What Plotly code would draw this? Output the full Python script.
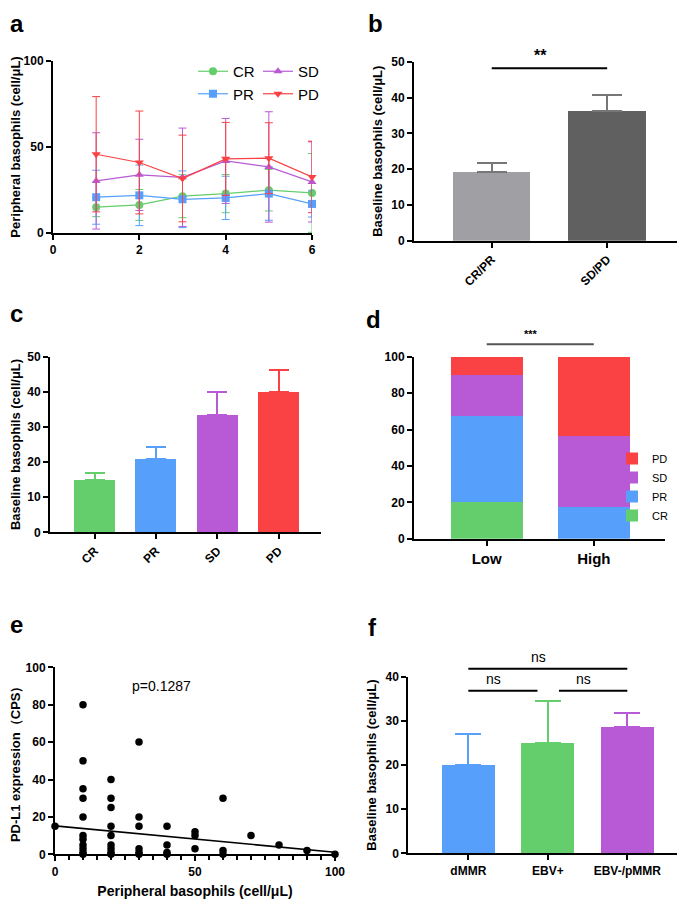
import plotly.graph_objects as go

# ---- data ----
groups = ['CR', 'PR', 'SD', 'PD']
colors = {'CR': '#63CE6B', 'PR': '#56A0FB', 'SD': '#B85AD6', 'PD': '#FA4144'}

# a: peripheral basophils over time (mean +/- SD)
time_pts = [1, 2, 3, 4, 5, 6]
a_mean = {
    'CR': [15.0, 16.3, 21.4, 22.9, 24.9, 23.3],
    'PR': [20.8, 21.9, 19.6, 20.4, 22.9, 16.9],
    'SD': [30.3, 33.8, 32.4, 41.9, 38.4, 29.7],
    'PD': [45.8, 41.0, 31.7, 43.1, 43.5, 32.6],
}
a_sd = {
    'CR': [5.5, 9.0, 12.5, 11.1, 12.1, 22.9],
    'PR': [15.7, 17.6, 16.5, 12.6, 15.5, 7.6],
    'SD': [28.0, 20.7, 28.6, 24.7, 32.1, 23.3],
    'PD': [33.5, 29.9, 25.2, 21.2, 20.6, 20.8],
}

# b: baseline basophils CR/PR vs SD/PD
b_groups = ['CR/PR', 'SD/PD']
b_mean = [19.3, 36.3]
b_err = [2.5, 4.5]
b_colors = ['#A0A0A4', '#606060']

# c: baseline basophils by response
c_mean = [15.0, 21.0, 33.5, 40.0]
c_err = [2.0, 3.2, 6.5, 6.3]

# d: response proportion (%) in low / high basophils
d_groups = ['Low', 'High']
d_pct = {
    'CR': [20.0, 0.0],
    'PR': [47.5, 17.5],
    'SD': [22.5, 39.0],
    'PD': [10.0, 43.5],
}

# e: PD-L1 CPS vs peripheral basophils
e_x = [0,
       10, 10, 10, 10, 10, 10, 10, 10, 10, 10, 10,
       20, 20, 20, 20, 20, 20, 20, 20, 20,
       30, 30, 30, 30, 30, 30,
       40, 40, 40, 40,
       50, 50, 50,
       60, 60, 60,
       70, 80, 90, 100]
e_y = [15,
       80, 50, 35, 30, 20, 10, 8, 5, 3, 1, 0,
       40, 30, 25, 15, 10, 5, 3, 1, 0,
       60, 20, 15, 3, 1, 0,
       15, 5, 1, 0,
       12, 10, 3,
       30, 2, 0,
       10, 5, 2, 0]
e_fit_x = [0, 100]
e_fit_y = [15.2, 1.1]

# f: baseline basophils by molecular subtype
f_groups = ['dMMR', 'EBV+', 'EBV-/pMMR']
f_mean = [20.0, 25.0, 28.7]
f_err = [7.0, 9.5, 3.1]
f_colors = ['#56A0FB', '#63CE6B', '#B85AD6']

FONT = 'Liberation Sans, Arial, sans-serif'
# the page body adds an 8px margin, so the figure is 8px smaller than the window
OFF = 8
W, H = 685 - OFF, 904 - OFF


def px_x(p):
    return (p - OFF) / W


def px_y(p):
    return 1 - (p - OFF) / H


# axis setup per panel: (x domain px, x range, y domain px, y range)
panels = {
    'b': ((414, 685), (-0.673, 1.674), (240.7, 61.7), (0, 50)),
    'd': ((414, 665), (-0.679, 1.665), (538.7, 356.7), (0, 100)),
    'f': ((408.3, 681.7), (-0.755, 2.684), (853.3, 676.7), (0, 40)),
}


def to_paper(panel, xv, yv):
    (xd0, xd1), (xr0, xr1), (yd0, yd1), (yr0, yr1) = panels[panel]
    xp = xd0 + (xv - xr0) / (xr1 - xr0) * (xd1 - xd0)
    yp = yd0 + (yv - yr0) / (yr1 - yr0) * (yd1 - yd0)
    return px_x(xp), px_y(yp)


fig = go.Figure()

# ---- panel a ----
for g, leg in zip(groups, ['legend', 'legend', 'legend2', 'legend2']):
    sym = {'CR': 'circle', 'PR': 'square', 'SD': 'triangle-up', 'PD': 'triangle-down'}[g]
    fig.add_trace(go.Scatter(
        x=time_pts, y=a_mean[g], mode='lines+markers', name=g,
        line=dict(color=colors[g], width=1.2),
        marker=dict(symbol=sym, size=8, color=colors[g]),
        error_y=dict(type='data', array=a_sd[g], color=colors[g], thickness=1, width=4),
        xaxis='x', yaxis='y', legend=leg, cliponaxis=False,
    ))

# ---- panel b ----
fig.add_trace(go.Bar(
    x=b_groups, y=b_mean, marker=dict(color=b_colors, line=dict(width=0)),
    error_y=dict(type='data', array=b_err, arrayminus=[0, 0], symmetric=False,
                 color='#777777', thickness=2, width=15),
    width=0.67, xaxis='x2', yaxis='y2', showlegend=False,
))

# ---- panel c ----
for g, m, e in zip(groups, c_mean, c_err):
    fig.add_trace(go.Bar(
        x=[g], y=[m], marker=dict(color=colors[g], line=dict(width=0)),
        error_y=dict(type='data', array=[e], arrayminus=[0], symmetric=False,
                     color=colors[g], thickness=2, width=10),
        width=0.67, xaxis='x3', yaxis='y3', showlegend=False,
    ))

# ---- panel d ----
for g in groups:
    fig.add_trace(go.Bar(
        x=d_groups, y=d_pct[g], name=g, marker=dict(color=colors[g], line=dict(width=0)),
        width=0.67, xaxis='x4', yaxis='y4', legend='legend3',
    ))

# ---- panel e ----
fig.add_trace(go.Scatter(
    x=e_x, y=e_y, mode='markers', marker=dict(color='black', size=7.5),
    xaxis='x5', yaxis='y5', showlegend=False, cliponaxis=False,
))
fig.add_trace(go.Scatter(
    x=e_fit_x, y=e_fit_y, mode='lines', line=dict(color='black', width=1.6),
    xaxis='x5', yaxis='y5', showlegend=False,
))

# ---- panel f ----
for g, m, e, c in zip(f_groups, f_mean, f_err, f_colors):
    fig.add_trace(go.Bar(
        x=[g], y=[m], marker=dict(color=c, line=dict(width=0)),
        error_y=dict(type='data', array=[e], arrayminus=[0], symmetric=False,
                     color=c, thickness=2, width=13),
        width=0.67, xaxis='x6', yaxis='y6', showlegend=False,
    ))

tickfont = dict(family=FONT, size=12, color='black', weight='bold')
titlefont = dict(family=FONT, size=13, color='black', weight='bold')
axis_common = dict(showline=True, linecolor='black', linewidth=2, ticks='outside',
                   ticklen=5, tickwidth=2, tickcolor='black', showgrid=False,
                   zeroline=False, tickfont=tickfont)

ylabel_bas = 'Baseline basophils (cell/μL)'


def dom_x(p):
    return [px_x(panels[p][0][0]), px_x(panels[p][0][1])]


def dom_y(p):
    return [px_y(panels[p][2][0]), px_y(panels[p][2][1])]


fig.update_layout(
    width=W, height=H, margin=dict(l=0, r=0, t=0, b=0, autoexpand=False),
    plot_bgcolor='white', paper_bgcolor='white',
    font=dict(family=FONT, color='black'),
    barmode='stack', bargap=0.33,
    # a
    xaxis=dict(domain=[px_x(53), px_x(312)], range=[0, 6], tickvals=[0, 2, 4, 6],
               anchor='y', **axis_common),
    yaxis=dict(domain=[px_y(233), px_y(61)], range=[0, 100], tickvals=[0, 50, 100],
               anchor='x', title=dict(text='Peripheral basophils (cell/μL)', font=titlefont,
                                      standoff=6), **axis_common),
    # b
    xaxis2=dict(domain=dom_x('b'), range=list(panels['b'][1]), type='category',
                tickangle=-45, anchor='y2', **axis_common),
    yaxis2=dict(domain=dom_y('b'), range=list(panels['b'][3]), dtick=10,
                anchor='x2', title=dict(text=ylabel_bas, font=titlefont, standoff=6),
                **axis_common),
    # c
    xaxis3=dict(domain=[px_x(50), px_x(320.7)], range=[-0.726, 3.685], type='category',
                tickangle=-45, anchor='y3', **axis_common),
    yaxis3=dict(domain=[px_y(532.3), px_y(356.7)], range=[0, 50], dtick=10,
                anchor='x3', title=dict(text=ylabel_bas, font=titlefont, standoff=6),
                **axis_common),
    # d
    xaxis4=dict(domain=dom_x('d'), range=list(panels['d'][1]), type='category',
                anchor='y4', **{**axis_common,
                                'tickfont': dict(family=FONT, size=15, color='black',
                                                 weight='bold')}),
    yaxis4=dict(domain=dom_y('d'), range=list(panels['d'][3]), dtick=20,
                anchor='x4', **axis_common),
    # e
    xaxis5=dict(domain=[px_x(55), px_x(335)], range=[0, 100], tickvals=[0, 50, 100],
                minor=dict(dtick=5, ticklen=4, tickwidth=1.5, tickcolor='black',
                           ticks='outside'),
                anchor='y5', title=dict(text='Peripheral basophils (cell/μL)',
                                        font=dict(family=FONT, size=14, color='black',
                                                  weight='bold'), standoff=8),
                **axis_common),
    yaxis5=dict(domain=[px_y(854.3), px_y(667.3)], range=[0, 100], dtick=20,
                anchor='x5', title=dict(text='PD-L1 expression（CPS）', font=titlefont,
                                        standoff=6), **axis_common),
    # f
    xaxis6=dict(domain=dom_x('f'), range=list(panels['f'][1]), type='category',
                anchor='y6', **axis_common),
    yaxis6=dict(domain=dom_y('f'), range=list(panels['f'][3]), dtick=10,
                anchor='x6', title=dict(text=ylabel_bas, font=titlefont, standoff=6),
                **axis_common),
    legend=dict(x=px_x(193), y=px_y(55), xanchor='left', yanchor='top',
                font=dict(family=FONT, size=15), bgcolor='rgba(0,0,0,0)',
                traceorder='normal', itemwidth=30, tracegroupgap=0),
    legend2=dict(x=px_x(258), y=px_y(55), xanchor='left', yanchor='top',
                 font=dict(family=FONT, size=15), bgcolor='rgba(0,0,0,0)',
                 traceorder='normal', itemwidth=30, tracegroupgap=0),
    legend3=dict(x=px_x(612), y=px_y(444), xanchor='left', yanchor='top',
                 font=dict(family=FONT, size=11), bgcolor='rgba(0,0,0,0)',
                 traceorder='reversed', itemwidth=30, tracegroupgap=0),
)

# significance bars: (panel, x0, x1, line y, text, size, line colour)
sig_marks = [
    ('b', 0, 1, 48.2, '**', 16, 'black'),
    ('d', 0, 1, 106.8, '***', 11, '#555555'),
    ('f', 0, 0.87, 36.8, 'ns', 14, 'black'),
    ('f', 1.14, 2, 36.8, 'ns', 14, 'black'),
    ('f', 0, 2, 41.8, 'ns', 14, 'black'),
]
for pn, x0, x1, yv, txt, sz, lc in sig_marks:
    px0, py = to_paper(pn, x0, yv)
    px1, _ = to_paper(pn, x1, yv)
    fig.add_shape(type='line', xref='paper', yref='paper', x0=px0, x1=px1, y0=py, y1=py,
                  line=dict(color=lc, width=2))
    fig.add_annotation(xref='paper', yref='paper', x=(px0 + px1) / 2, y=py + 2 / H,
                       text=txt, showarrow=False, yanchor='bottom',
                       font=dict(family=FONT, size=sz, color='black',
                                 weight='bold' if '*' in txt else 'normal'))

fig.add_annotation(xref='x5', yref='y5', x=38, y=90, text='p=0.1287', showarrow=False,
                   font=dict(family=FONT, size=14, color='black'))

# panel letters
letters = ['a', 'b', 'c', 'd', 'e', 'f']
letter_pos = [(8, 8), (366, 8), (8, 298), (364, 304), (8, 609), (366, 612)]
for lt, (lx, ly) in zip(letters, letter_pos):
    fig.add_annotation(xref='paper', yref='paper', x=px_x(lx), y=px_y(ly), text=lt,
                       showarrow=False, xanchor='left', yanchor='top',
                       font=dict(family=FONT, size=24, color='black', weight='bold'))

fig.write_html('out.html')
